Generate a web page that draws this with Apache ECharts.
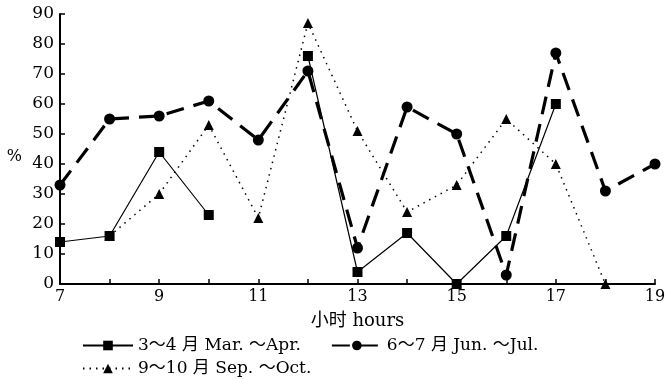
<!DOCTYPE html>
<html><head><meta charset="utf-8">
<script src="https://cdn.jsdelivr.net/npm/echarts@6/dist/echarts.min.js"></script>
<style>html,body{margin:0;padding:0;background:#fff}#c{width:665px;height:379px}</style>
</head><body><div id="c"></div>
<script>
const hours = [7,8,9,10,11,12,13,14,15,16,17,18,19];
const marApr = [14,16,44,23,null,76,4,17,0,16,60,null,null];
const junJul = [33,55,56,61,48,71,12,59,50,3,77,31,40];
const sepOct = [null,16,30,53,22,87,51,24,33,55,40,0,null];
const yTicks = [0,10,20,30,40,50,60,70,80,90];
const names = ['3～4 月 Mar. ～Apr.','6～7 月 Jun. ～Jul.','9～10 月 Sep. ～Oct.'];

const pairs = arr => hours.map((h,i)=>[h, arr[i]===null ? '-' : arr[i]]);
const serif = 'DejaVu Serif';
const legFont = 'DejaVu Serif, Noto Sans CJK SC';
const chart = echarts.init(document.getElementById('c'));
chart.setOption({
  animation:false,
  backgroundColor:'#fff',
  textStyle:{fontFamily:serif,color:'#000'},
  grid:{left:60,right:10,top:14,bottom:95,containLabel:false,outerBoundsMode:'none'},
  xAxis:{type:'value',min:7,max:19,interval:1,
    name:'小时 hours',nameLocation:'middle',nameGap:28,
    nameTextStyle:{fontFamily:legFont,fontSize:18,color:'#000'},
    axisLine:{lineStyle:{color:'#000',width:2}},
    axisTick:{inside:true,length:5,lineStyle:{color:'#000',width:1.5}},
    axisLabel:{fontFamily:serif,fontSize:16,color:'#000',margin:5,
      formatter:v=> (v%2===1)? String(v):''},
    splitLine:{show:false}},
  yAxis:{type:'value',min:0,max:90,interval:10,
    name:'%',nameLocation:'middle',nameGap:38,nameRotate:0,
    nameTextStyle:{fontFamily:serif,fontSize:16,color:'#000',verticalAlign:'top'},
    axisLine:{show:true,lineStyle:{color:'#000',width:2}},
    axisTick:{show:true,inside:true,length:5,lineStyle:{color:'#000',width:1.5}},
    axisLabel:{fontFamily:serif,fontSize:17,color:'#000',margin:6,
      formatter:v=>yTicks.includes(v)?String(v):''},
    splitLine:{show:false}},
  legend:[
    {data:[names[0],names[1]],left:77,top:332,itemGap:30,itemWidth:50,itemHeight:12,
     textStyle:{fontFamily:legFont,fontSize:17,color:'#000'}},
    {data:[names[2]],left:77,top:355,itemWidth:50,itemHeight:12,
     textStyle:{fontFamily:legFont,fontSize:17,color:'#000'}}
  ],
  series:[
    {name:names[0],type:'line',data:pairs(marApr),connectNulls:false,
     symbol:'rect',symbolSize:10,itemStyle:{color:'#000'},
     lineStyle:{color:'#000',width:1.2,type:'solid'}},
    {name:names[1],type:'line',data:pairs(junJul),
     symbol:'circle',symbolSize:11,itemStyle:{color:'#000'},
     lineStyle:{color:'#000',width:3.2,type:[18,10]}},
    {name:names[2],type:'line',data:pairs(sepOct),connectNulls:false,
     symbol:'triangle',symbolSize:10,itemStyle:{color:'#000'},
     lineStyle:{color:'#000',width:1.5,type:[1.5,5]}}
  ]
});
</script></body></html>
